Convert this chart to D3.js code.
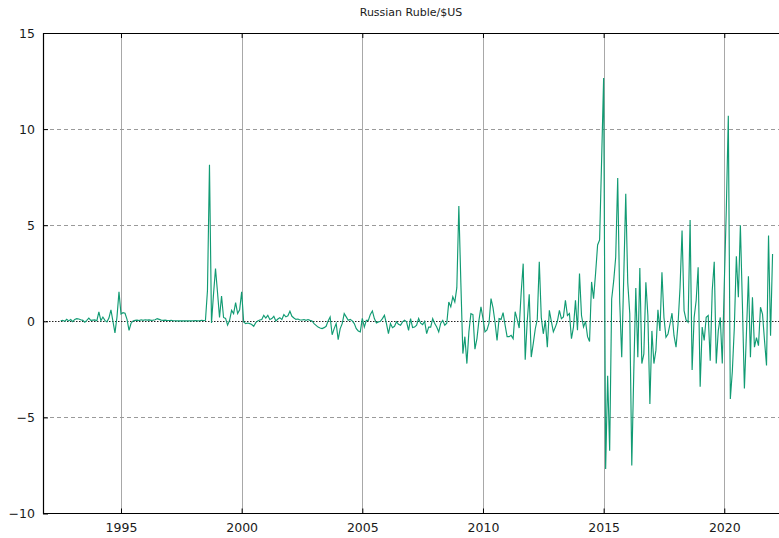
<!DOCTYPE html>
<html>
<head>
<meta charset="utf-8">
<script src="https://cdn.jsdelivr.net/npm/d3@7"></script>
<style>
  body { margin: 0; background: #fff; }
  svg { display: block; }
  text { font-family: "DejaVu Sans", Verdana, sans-serif; fill: #1a1a1a; }
</style>
</head>
<body>
<svg id="chart" width="779" height="538"></svg>
<script>
// Monthly change of the ruble against the US dollar, July 1992 onwards.
const firstYear = 1992;
const firstMonth = 7;
const rubleChange = [
  /* 1992 */ 0.03, 0.05, 0.00, 0.10, 0.02, 0.09,
  /* 1993 */ -0.02, 0.10, 0.14, 0.12, 0.08, 0.05, -0.05, 0.05, 0.17, 0.05, 0.06, 0.07,
  /* 1994 */ 0.03, 0.49, 0.03, 0.22, 0.05, -0.03, 0.17, 0.60, 0.00, -0.60, 0.22, 1.54,
  /* 1995 */ 0.38, 0.45, 0.42, 0.10, -0.47, -0.10, 0.02, 0.05, 0.06, 0.04, 0.08, 0.05,
  /* 1996 */ 0.08, 0.06, 0.07, 0.05, 0.06, 0.08, 0.14, 0.10, 0.06, 0.05, 0.06, 0.04,
  /* 1997 */ 0.04, 0.05, 0.03, 0.03, 0.02, 0.02, 0.03, 0.02, 0.03, 0.02, 0.03, 0.02,
  /* 1998 */ 0.03, 0.04, 0.02, 0.03, 0.05, 0.04, 0.05, 1.60, 8.15, -0.09, 1.40, 2.74,
  /* 1999 */ 1.50, 0.20, 1.32, 0.20, 0.15, -0.20, 0.05, 0.57, 0.40, 0.97, 0.40, 0.60,
  /* 2000 */ 1.53, -0.03, -0.12, -0.09, -0.12, -0.17, -0.26, -0.07, 0.02, 0.07, 0.09, 0.31,
  /* 2001 */ 0.17, 0.31, 0.09, 0.14, 0.26, 0.02, 0.12, 0.19, 0.09, 0.35, 0.23, 0.29,
  /* 2002 */ 0.52, 0.26, 0.17, 0.10, 0.12, 0.07, 0.07, 0.09, 0.05, 0.09, 0.05, 0.02,
  /* 2003 */ -0.12, -0.21, -0.30, -0.35, -0.38, -0.33, -0.26, 0.02, 0.23, -0.70, -0.38, -0.12,
  /* 2004 */ -0.95, -0.38, -0.12, 0.40, 0.23, 0.05, 0.10, 0.02, -0.12, -0.38, -0.50, -0.55,
  /* 2005 */ 0.15, -0.30, 0.05, 0.05, 0.36, 0.54, 0.14, -0.09, -0.03, 0.00, 0.14, 0.31,
  /* 2006 */ -0.12, -0.64, -0.12, -0.33, -0.26, -0.03, -0.16, -0.21, -0.03, 0.05, -0.03, -0.47,
  /* 2007 */ 0.14, -0.33, -0.30, -0.20, 0.15, -0.10, -0.17, 0.00, -0.64, -0.30, -0.30, 0.14,
  /* 2008 */ -0.12, -0.30, -0.55, -0.10, 0.05, -0.20, -0.10, 1.00, 0.75, 1.27, 1.00, 1.75,
  /* 2009 */ 6.00, 2.00, -1.68, -0.80, -2.20, -0.55, 0.40, 0.35, -1.45, -0.90, 0.05, 0.75,
  /* 2010 */ 0.15, -0.55, -0.45, -0.10, 1.18, 0.70, -0.05, -1.00, 0.14, 0.10, 0.45, -0.20,
  /* 2011 */ -0.80, -0.80, -0.73, -0.90, 0.50, 0.10, -0.35, 1.50, 3.00, -2.00, 0.00, 1.40,
  /* 2012 */ -1.86, -1.16, -0.40, 0.10, 3.10, 0.20, -0.65, 0.05, -1.35, 0.57, 0.00, -0.55,
  /* 2013 */ -0.30, 0.00, 0.57, 0.14, 0.23, 1.09, 0.30, 0.40, -0.90, -0.30, 1.09, -0.47,
  /* 2014 */ 2.48, 0.30, -0.30, 0.00, -0.80, -1.05, 2.05, 1.18, 2.50, 3.97, 4.23, 8.40,
  /* 2015 */ 12.66, -7.68, -2.83, -6.73, 1.16, 2.10, 3.33, 7.46, 1.00, -1.87, 2.30, 6.63,
  /* 2016 */ 2.00, 0.40, -7.50, -2.60, 1.73, -1.87, 2.77, -2.20, -1.70, 2.03, 0.30, -4.30,
  /* 2017 */ -0.50, -2.20, -1.50, 0.60, -0.50, 2.55, 0.20, -0.83, -0.66, -0.14, 0.42, -0.75,
  /* 2018 */ -1.35, -0.14, 1.77, 4.72, 0.55, 0.07, -0.05, 5.27, -2.53, 0.20, 1.07, 2.81,
  /* 2019 */ -3.40, -0.30, -1.00, 0.21, 0.30, -2.05, 1.60, 3.10, -2.20, -0.50, 0.20, -2.20,
  /* 2020 */ 1.95, 5.80, 10.70, -4.04, -2.60, -0.30, 3.38, 1.25, 5.00, 0.90, -3.50, -0.65,
  /* 2021 */ 2.34, -1.87, 1.25, -1.35, -0.85, -1.27, 0.73, 0.38, -1.00, -2.30, 4.46, -0.75,
  /* 2022 */ 3.50
];
const yearTicks = [1995, 2000, 2005, 2010, 2015, 2020];
const valueTicks = [-10, -5, 0, 5, 10, 15];
const yearDomain = [1991.768, 2022.267];
const valueDomain = [-10, 15];
const titleText = "Russian Ruble/$US";

const series = rubleChange.map((v, i) => ({
  t: firstYear + (firstMonth - 1) / 12 + i / 12,
  v
}));

const plot = { left: 43, right: 779, top: 33, bottom: 513.5 };
const svg = d3.select("#chart");

const x = d3.scaleLinear().domain(yearDomain).range([plot.left, plot.right]);
const y = d3.scaleLinear().domain(valueDomain).range([plot.bottom, plot.top]);

// grid: solid verticals at the year ticks, dashed horizontals at the value ticks
const grid = svg.append("g");
grid.selectAll("line.vgrid")
  .data(yearTicks)
  .join("line")
  .attr("x1", d => Math.round(x(d)) + 0.5)
  .attr("x2", d => Math.round(x(d)) + 0.5)
  .attr("y1", plot.top)
  .attr("y2", plot.bottom)
  .attr("stroke", "#a8a8a8")
  .attr("stroke-width", 1);

grid.selectAll("line.hgrid")
  .data(valueTicks.filter(v => v !== 0 && v > valueDomain[0] && v < valueDomain[1]))
  .join("line")
  .attr("x1", plot.left)
  .attr("x2", plot.right)
  .attr("y1", d => Math.round(y(d)) + 0.5)
  .attr("y2", d => Math.round(y(d)) + 0.5)
  .attr("stroke", "#9a9a9a")
  .attr("stroke-width", 1)
  .attr("stroke-dasharray", "4,3");

// zero axis, dotted
svg.append("line")
  .attr("x1", plot.left)
  .attr("x2", plot.right)
  .attr("y1", Math.round(y(0)) + 0.5)
  .attr("y2", Math.round(y(0)) + 0.5)
  .attr("stroke", "#222")
  .attr("stroke-width", 1)
  .attr("stroke-dasharray", "1.5,1.5");

// the series
const line = d3.line().x(d => x(d.t)).y(d => y(d.v));
svg.append("path")
  .datum(series)
  .attr("d", line)
  .attr("fill", "none")
  .attr("stroke", "#119b73")
  .attr("stroke-width", 1.15)
  .attr("stroke-linejoin", "miter");

// border (left, top, bottom)
svg.append("path")
  .attr("d", `M${plot.right + 2},${plot.top + 0.5}H${plot.left + 0.5}V${plot.bottom}H${plot.right + 2}`)
  .attr("fill", "none")
  .attr("stroke", "#000")
  .attr("stroke-width", 1.2);

// axes with inward ticks
const xAxis = d3.axisBottom(x)
  .tickValues(yearTicks)
  .tickFormat(d3.format("d"))
  .tickSizeInner(-5)
  .tickSizeOuter(0)
  .tickPadding(10);
const gx = svg.append("g")
  .attr("transform", `translate(0,${plot.bottom})`)
  .call(xAxis);

const xTop = d3.axisTop(x)
  .tickValues(yearTicks)
  .tickFormat("")
  .tickSizeInner(-5)
  .tickSizeOuter(0);
const gxt = svg.append("g")
  .attr("transform", `translate(0,${plot.top})`)
  .call(xTop);

const yAxis = d3.axisLeft(y)
  .tickValues(valueTicks)
  .tickFormat(d3.format("d"))
  .tickSizeInner(-5)
  .tickSizeOuter(0)
  .tickPadding(8);
const gy = svg.append("g")
  .attr("transform", `translate(${plot.left},0)`)
  .call(yAxis);

[gx, gxt, gy].forEach(g => {
  g.select(".domain").remove();
  g.selectAll(".tick line").attr("stroke", "#000").attr("stroke-width", 1);
  g.selectAll(".tick text")
    .attr("font-size", 12.5)
    .attr("font-family", "'DejaVu Sans', Verdana, sans-serif")
    .attr("fill", "#1a1a1a");
});

// title
svg.append("text")
  .attr("x", (plot.left + plot.right) / 2)
  .attr("y", 16)
  .attr("text-anchor", "middle")
  .attr("font-size", 11)
  .text(titleText);
</script>
</body>
</html>
